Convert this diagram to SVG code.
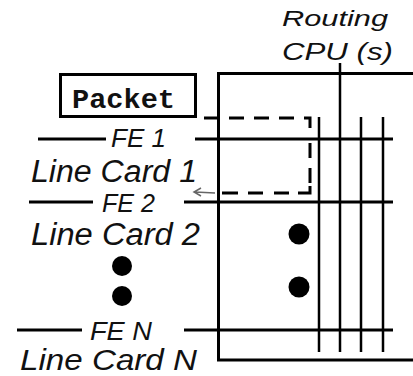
<svg xmlns="http://www.w3.org/2000/svg" width="413" height="376" viewBox="0 0 413 376">
<style>
.ln{stroke:#000;stroke-width:3;fill:none}
.vl{stroke:#000;stroke-width:2.5;fill:none}
.ds{stroke:#000;stroke-width:3;fill:none}
.t{font-family:"Liberation Sans",Arial,sans-serif;font-style:italic;fill:#111}
.mono{font-family:"Liberation Mono","Courier New",monospace;font-weight:bold;fill:#111}
.dot{fill:#000}
</style>
<rect width="413" height="376" fill="#fff"/>
<g id="router">
<path class="ln" d="M413,73.5 H218.5 V360 H413"/>
</g>
<g id="cpu">
<text class="t" x="282" y="26" font-size="22" textLength="106" lengthAdjust="spacingAndGlyphs">Routing</text>
<text class="t" x="282" y="60" font-size="24" textLength="111" lengthAdjust="spacingAndGlyphs">CPU (s)</text>
</g>
<g id="packet">
<rect class="ln" x="60.5" y="74.5" width="135" height="42"/>
<text class="mono" x="72" y="108" font-size="28" textLength="103" lengthAdjust="spacingAndGlyphs">Packet</text>
</g>
<g id="fe1">
<text class="t" x="111" y="147" font-size="26" textLength="55" lengthAdjust="spacingAndGlyphs">FE 1</text>
<text class="t" x="31" y="182" font-size="31" textLength="166" lengthAdjust="spacingAndGlyphs">Line Card 1</text>
</g>
<g id="fe2">
<text class="t" x="102" y="212" font-size="26" textLength="53" lengthAdjust="spacingAndGlyphs">FE 2</text>
<text class="t" x="31" y="245" font-size="31" textLength="169" lengthAdjust="spacingAndGlyphs">Line Card 2</text>
</g>
<g id="fen">
<text class="t" x="90" y="340" font-size="26" textLength="62" lengthAdjust="spacingAndGlyphs">FE N</text>
<text class="t" x="20" y="370" font-size="29" textLength="177" lengthAdjust="spacingAndGlyphs">Line Card N</text>
</g>
<g id="ellipsis">
<circle class="dot" cx="122" cy="266" r="10"/>
<circle class="dot" cx="122" cy="296" r="10"/>
<circle class="dot" cx="299" cy="234" r="10.5"/>
<circle class="dot" cx="299" cy="287" r="10.5"/>
</g>
<g id="connectors">
<path class="ln" d="M38,139 H106 M195,139 H393"/>
<path class="ln" d="M29,202 H93 M184,202 H393"/>
<path class="ln" d="M17,330 H82 M184,330 H393"/>
<path class="vl" d="M340,63 V352 M319,117 V352 M361,117 V352 M383,117 V352"/>
<path class="ds" d="M204,118 H219 M229,118 H244 M254,118 H269 M279,118 H294 M304,118 H310 V128 M310,143 V158 M310,168 V183 M310,186 V193 H298 M289,193 H274 M263,193 H248 M238,193 H222"/>
<path d="M215,193 L195,192 M201,188 L194,192 L201,196" stroke="#666" stroke-width="1.5" fill="none"/>
</g>
</svg>
